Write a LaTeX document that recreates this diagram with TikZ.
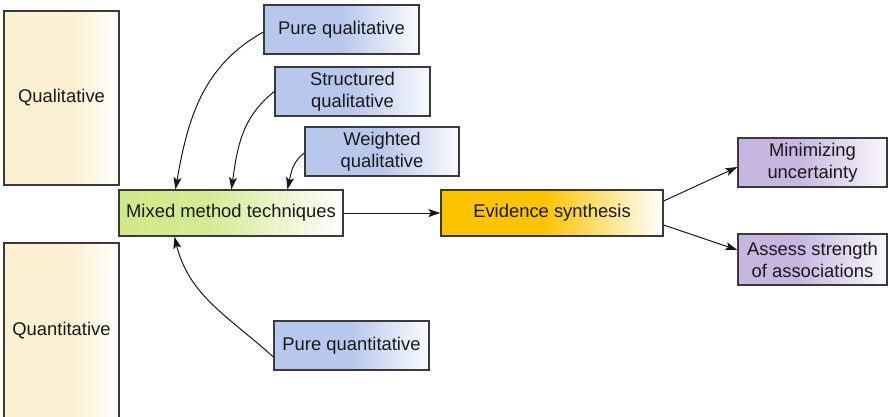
\documentclass[tikz,border=0pt]{standalone}
\usepackage{fontspec}
\setmainfont{Liberation Sans}
\usetikzlibrary{arrows.meta}

% box fills: solid colour that fades to white towards the right edge
\definecolor{creamC}{RGB}{251,240,210}
\definecolor{blueC}{RGB}{184,200,236}
\definecolor{greenC}{RGB}{208,232,136}
\definecolor{orangeC}{RGB}{252,196,0}
\definecolor{purpleC}{RGB}{198,182,224}
\definecolor{edgeC}{RGB}{58,58,58}
\definecolor{inkC}{RGB}{25,25,25}

\pgfdeclarehorizontalshading{creamfade}{100bp}{color(0bp)=(creamC); color(25bp)=(creamC); color(54bp)=(creamC); color(75bp)=(white); color(100bp)=(white)}
\pgfdeclarehorizontalshading{bluefade}{100bp}{color(0bp)=(blueC); color(25bp)=(blueC); color(50bp)=(blueC); color(75bp)=(white!92!blueC); color(100bp)=(white)}
\pgfdeclarehorizontalshading{greenfade}{100bp}{color(0bp)=(greenC); color(25bp)=(greenC); color(45bp)=(greenC!90!white); color(75bp)=(white); color(100bp)=(white)}
\pgfdeclarehorizontalshading{orangefade}{100bp}{color(0bp)=(orangeC); color(25bp)=(orangeC); color(48bp)=(orangeC); color(75bp)=(white); color(100bp)=(white)}
\pgfdeclarehorizontalshading{purplefade}{100bp}{color(0bp)=(purpleC); color(25bp)=(purpleC); color(45bp)=(purpleC); color(75bp)=(white!90!purpleC); color(100bp)=(white)}

\tikzset{
  box/.style={draw=edgeC, line width=1.2pt, inner sep=0pt, align=center,
    text=inkC, font=\fontsize{18.4}{22}\selectfont},
  sidebox/.style={box, shading=creamfade, minimum width=115pt},
  methodbox/.style={box, shading=bluefade, minimum width=155pt, minimum height=49pt},
  mixbox/.style={box, shading=greenfade, minimum width=224pt, minimum height=46pt},
  synthbox/.style={box, shading=orangefade, minimum width=222pt, minimum height=46pt},
  goalbox/.style={box, shading=purplefade, minimum width=149pt},
  link/.style={draw=inkC, line width=1pt,
    -{Stealth[length=12pt, width=8pt, inset=2.5pt]}},
}

\begin{document}
\begin{tikzpicture}[x=1pt, y=1pt]
  \useasboundingbox (0,0) rectangle (888,-416);

  % left-hand category columns
  \node[sidebox, minimum height=174pt] (qual) at (61.5,-98) {Qualitative};
  \node[sidebox, minimum height=175pt] (quant) at (61.5,-330.5) {Quantitative};

  % source methods
  \node[methodbox] (pql) at (341.5,-29.5) {Pure qualitative};
  \node[methodbox] (sql) at (352.5,-91.5) {Structured\\qualitative};
  \node[methodbox, minimum width=154pt] (wql) at (382,-151.5) {Weighted\\qualitative};
  \node[methodbox] (pqn) at (351.5,-345.5) {Pure quantitative};

  % central chain
  \node[mixbox] (mix) at (231,-213) {Mixed method techniques};
  \node[synthbox] (syn) at (552,-213) {Evidence synthesis};

  % outcomes
  \node[goalbox, minimum height=49pt] (minu) at (812.5,-162.5) {Minimizing\\uncertainty};
  \node[goalbox, minimum height=51pt] (asse) at (812.5,-259.5) {Assess strength\\of associations};

  % connectors into the mixed-method box
  \draw[link] ([yshift=-2.5pt]pql.west) to[out=209, in=80] ([xshift=57pt]mix.north west);
  \draw[link] (sql.west) to[out=218, in=82] ([xshift=113pt]mix.north west);
  \draw[link] ([yshift=-1.5pt]wql.west) to[out=216, in=77] ([xshift=169pt]mix.north west);
  \draw[link] ([yshift=-11.5pt]pqn.west) to[out=138, in=-76] ([xshift=56pt]mix.south west);

  % main flow and outcomes
  \draw[link] (mix.east) -- (syn.west);
  \draw[link] ([yshift=12pt]syn.east) -- ([yshift=-4.5pt]minu.west);
  \draw[link] ([yshift=-12pt]syn.east) -- ([yshift=9.5pt]asse.west);
\end{tikzpicture}
\end{document}
